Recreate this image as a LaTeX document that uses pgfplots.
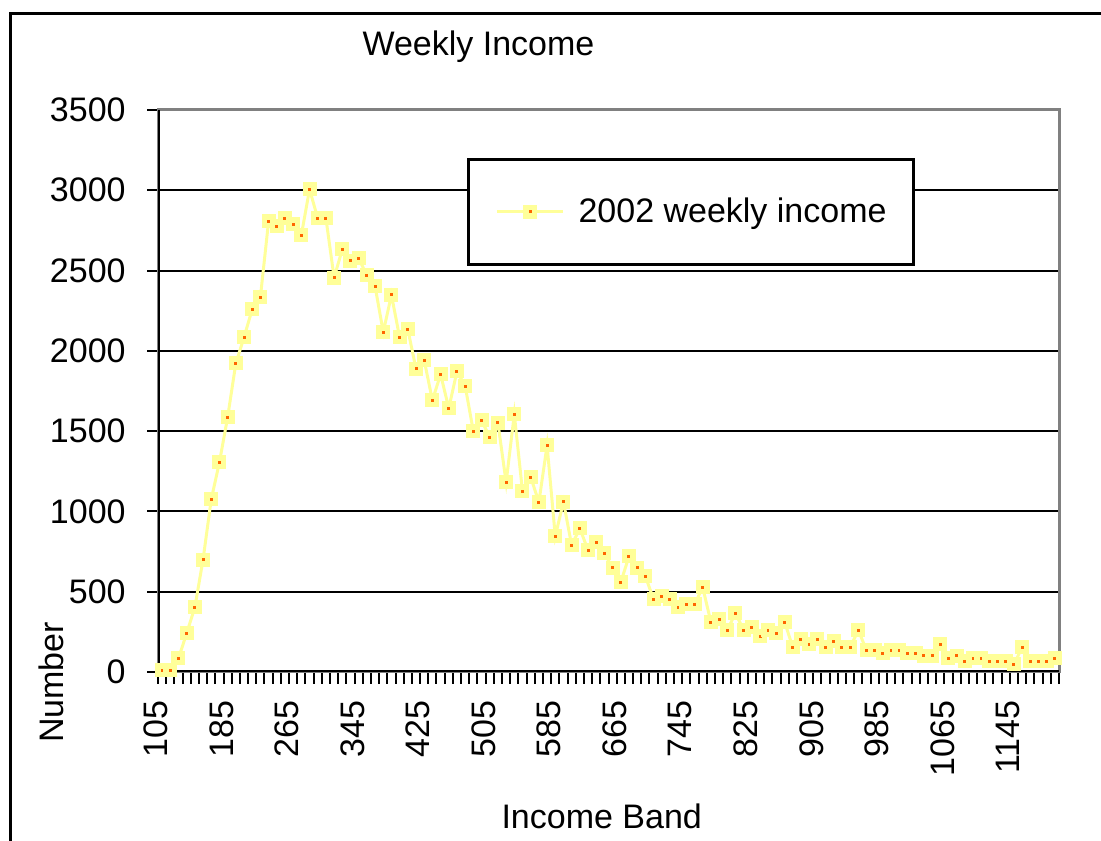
\documentclass[border=0pt]{standalone}
\usepackage{pgfplots}
\pgfplotsset{compat=1.18}
\usepackage{fontspec}
\setmainfont{Liberation Sans}

\definecolor{lineyel}{RGB}{255,255,153}
\definecolor{dotred}{RGB}{255,102,0}
\definecolor{boxgray}{RGB}{128,128,128}
\newcommand\chartfont{\fontsize{17bp}{20bp}\selectfont}

% yellow square with a small orange centre, drawn as one mark
\pgfdeclareplotmark{sqdot}{%
  \pgfpathrectangle{\pgfpoint{-3.5bp}{-3.5bp}}{\pgfpoint{7bp}{7bp}}%
  \pgfsetfillcolor{lineyel}\pgfusepath{fill}%
  \pgfpathrectangle{\pgfpoint{-0.75bp}{-0.75bp}}{\pgfpoint{1.5bp}{1.5bp}}%
  \pgfsetfillcolor{dotred}\pgfusepath{fill}}

\begin{document}
\begin{tikzpicture}
\path[use as bounding box] (0bp,0bp) rectangle (550.5bp,420.5bp);
\draw[line width=1.5bp] (5bp,-10bp) -- (5bp,413.75bp) -- (565bp,413.75bp);
\node[font=\chartfont, anchor=base] at (239.25bp,392.5bp) {Weekly Income};
\node[font=\chartfont, rotate=90, anchor=base] at (31.5bp,79.25bp) {Number};
\node[font=\chartfont, anchor=base] at (300.85bp,6.5bp) {Income Band};

\begin{axis}[
    at={(79bp,84.5bp)}, anchor=south west,
    scale only axis,
    width=450.5bp, height=281bp,
    xmin=-0.5, xmax=109.5,
    ymin=0, ymax=3500,
    ytick={0,500,...,3500},
    xtick={0,8,...,104},
    xticklabels={105,185,265,345,425,505,585,665,745,825,905,985,1065,1145},
    minor xtick={-0.5,0.5,...,109.5},
    xtick pos=bottom, ytick pos=left,
    tick align=outside,
    major tick length=5.5bp, minor tick length=6bp,
    tick style={black, line width=1bp},
    major x tick style={draw=none},
    ymajorgrids,
    grid style={black, line width=1bp},
    axis line style={boxgray, line width=1.5bp},
    scaled y ticks=false,
    /pgf/number format/assume math mode=true,
    /pgf/number format/1000 sep={},
    tick label style={font=\chartfont},
    yticklabel style={anchor=east, inner sep=0pt},
    yticklabel shift=10.5bp,
    xticklabel style={rotate=90, anchor=east, inner sep=0pt, yshift=3bp},
    xticklabel shift=8.5bp,
    legend image code/.code={\draw[mark repeat=2,mark phase=2,#1] plot coordinates {(0bp,0bp) (16.5bp,0bp) (33bp,0bp)};},
    legend cell align=left,
    legend style={at={(0.343,0.9146)}, anchor=north west, draw=black,
        line width=1.5bp, inner xsep=13.5bp, inner ysep=0pt,
        font=\chartfont,
        nodes={inner sep=0pt, minimum height=52.5bp},
        /tikz/every odd column/.append style={column sep=7bp}},
]
\addplot[color=lineyel, line width=1.5bp, mark=sqdot] table {
x y
0 10
1 10
2 85
3 241
4 403
5 700
6 1075
7 1306
8 1586
9 1922
10 2084
11 2259
12 2334
13 2807
14 2776
15 2826
16 2790
17 2720
18 3006
19 2826
20 2826
21 2456
22 2632
23 2560
24 2576
25 2470
26 2402
27 2117
28 2348
29 2084
30 2134
31 1887
32 1941
33 1692
34 1854
35 1642
36 1873
37 1781
38 1499
39 1567
40 1462
41 1551
42 1181
43 1605
44 1125
45 1214
46 1057
47 1412
48 845
49 1060
50 789
51 895
52 758
53 808
54 739
55 648
56 559
57 720
58 648
59 596
60 453
61 471
62 453
63 403
64 421
65 421
66 527
67 311
68 328
69 260
70 367
71 260
72 278
73 222
74 260
75 241
76 311
77 154
78 205
79 172
80 205
81 154
82 191
83 154
84 154
85 260
86 135
87 135
88 116
89 135
90 135
91 116
92 116
93 100
94 102
95 172
96 85
97 102
98 66
99 85
100 85
101 66
102 66
103 66
104 48
105 154
106 66
107 66
108 66
109 85
};
\addlegendentry{2002 weekly income}
\draw[black, line width=1.5bp] (rel axis cs:0,1) -- (rel axis cs:0,0) -- (rel axis cs:1,0);
\end{axis}
\end{tikzpicture}
\end{document}
